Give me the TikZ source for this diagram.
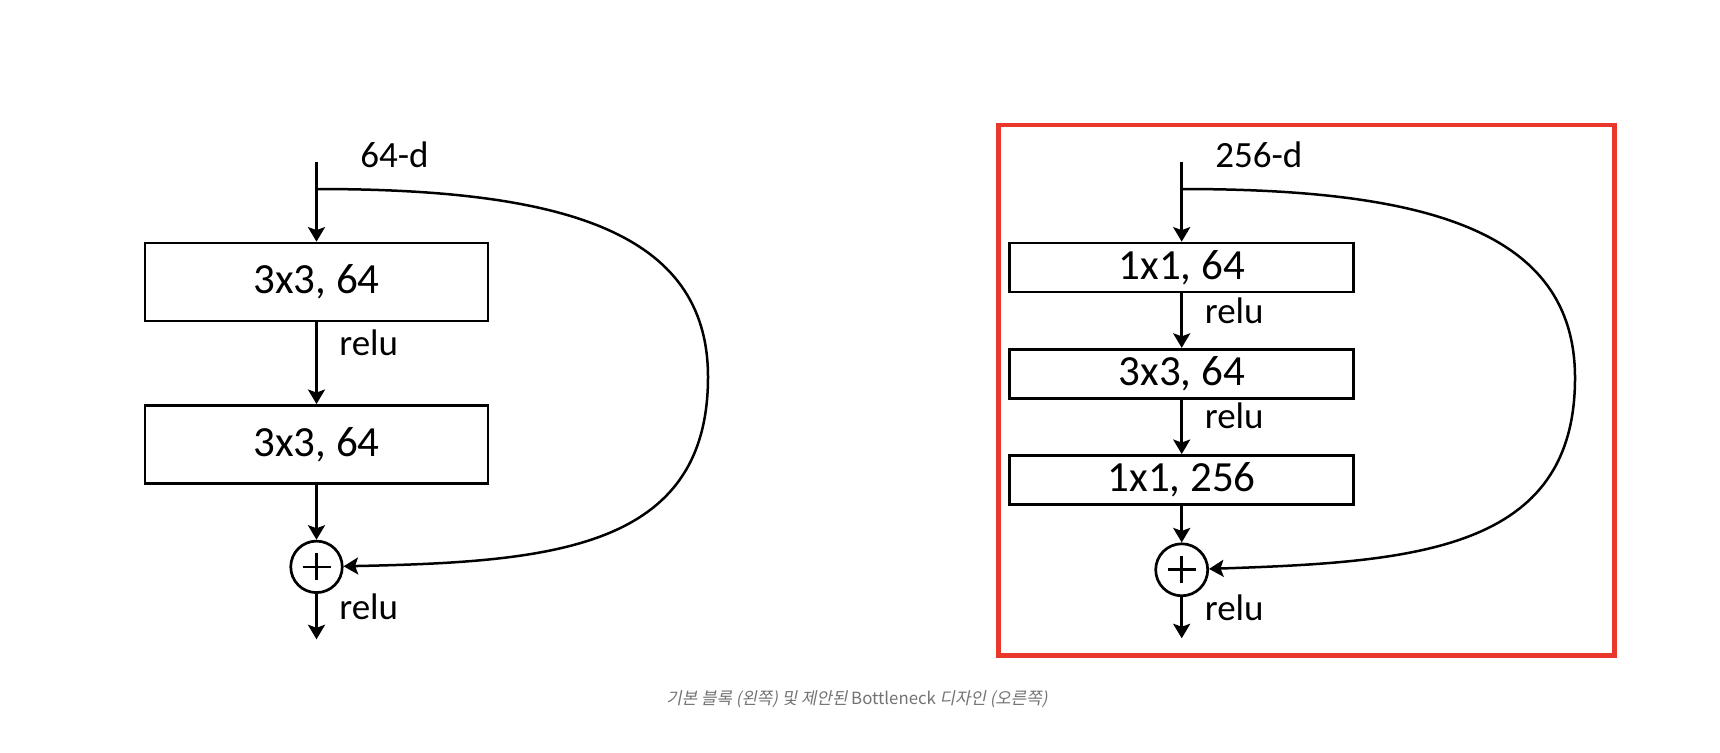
\documentclass[tikz,border=0pt]{standalone}
\usepackage{fontspec}
\setmainfont{Carlito}
\newfontfamily\capfont{Noto Sans CJK KR}
\newfontfamily\capslant[FakeSlant=0.2]{Noto Sans CJK KR}
\usetikzlibrary{arrows.meta, positioning}
\definecolor{framecol}{RGB}{233,56,43}
\definecolor{capcol}{RGB}{115,115,115}
\newcommand{\hangul}[1]{{\capslant #1}}

\begin{document}
\begin{tikzpicture}[x=1pt, y=-1pt, line width=2.7pt,
      every node/.style={inner sep=0pt, font=\fontsize{37}{42}\selectfont},
      layer/.style={draw, minimum width=343pt, minimum height=78pt, font=\fontsize{43}{48}\selectfont},
      slim/.style={draw, minimum width=344pt, minimum height=49pt, font=\fontsize{43}{48}\selectfont},
      sumop/.style={circle, draw, minimum size=51.5pt,
                    path picture={\draw ([xshift=-14pt]path picture bounding box.center) -- ([xshift=14pt]path picture bounding box.center)
                                        ([yshift=-13.5pt]path picture bounding box.center) -- ([yshift=13.5pt]path picture bounding box.center);}},
      tag/.style={anchor=base west},
      arr/.style={-{Stealth[length=14.5pt, width=17pt, inset=3pt]}}]
    \fill[white] (0,0) rectangle (1720,752);
    \useasboundingbox (0,0) rectangle (1720,752);

    % basic block (left)
    \coordinate (in1) at (316.5,161.7);
    \coordinate (br1) at (316.5,189);
    \node[layer] (l1) at (316.5,282) {3x3, 64};
    \node[layer, below=81.7pt of l1] (l2) {3x3, 64};
    \node[sumop, below=55pt of l2] (s1) {};
    \coordinate (out1) at (s1.center |- 0,639.3);
    \node[tag] (d1) at (359,167.3) {64-d};
    \node[tag] (ra) at (338,355) {relu};
    \node[tag] (rb) at (338,619.7) {relu};
    \draw[arr] (in1) -- (l1);
    \draw[arr] (l1) -- (l2);
    \draw[arr] (l2) -- (s1);
    \draw[arr] (s1) -- (out1);
    \draw[arr, line width=2.5pt] (br1) .. controls (560,189) and (708,230) .. (708,377)
                                       .. controls (708,550) and (550,562) .. (s1);

    % bottleneck block (right)
    \draw[framecol, line width=4.7pt] (998.3,125) rectangle (1614.2,655.5);
    \coordinate (in2) at (1181.7,161.7);
    \coordinate (br2) at (1181.7,189);
    \node[slim] (r1) at (1181.7,267.5) {1x1, 64};
    \node[slim, below=54.5pt of r1] (r2) {3x3, 64};
    \node[slim, below=54.5pt of r2] (r3) {1x1, 256};
    \node[sumop, minimum size=52pt, below=36.7pt of r3] (s2) {};
    \coordinate (out2) at (s2.center |- 0,638.3);
    \node[tag] (d2) at (1214,167.3) {256-d};
    \node[tag] (rc) at (1203.5,323.3) {relu};
    \node[tag] (rd) at (1203.5,428.3) {relu};
    \node[tag] (re) at (1203.5,620) {relu};
    \draw[arr] (in2) -- (r1);
    \draw[arr] (r1) -- (r2);
    \draw[arr] (r2) -- (r3);
    \draw[arr] (r3) -- (s2);
    \draw[arr] (s2) -- (out2);
    \draw[arr, line width=2.5pt] (br2) .. controls (1425,189) and (1575,230) .. (1575,378)
                                       .. controls (1575,551) and (1415,562) .. (s2);

    % caption
    \node[font=\capfont\fontsize{16.8}{20}\selectfont, text=capcol] (cap) at (857,699)
      {\hangul{기본 블록 (왼쪽) 및 제안된} Bottleneck \hangul{디자인 (오른쪽)}};
  \end{tikzpicture}
\end{document}
